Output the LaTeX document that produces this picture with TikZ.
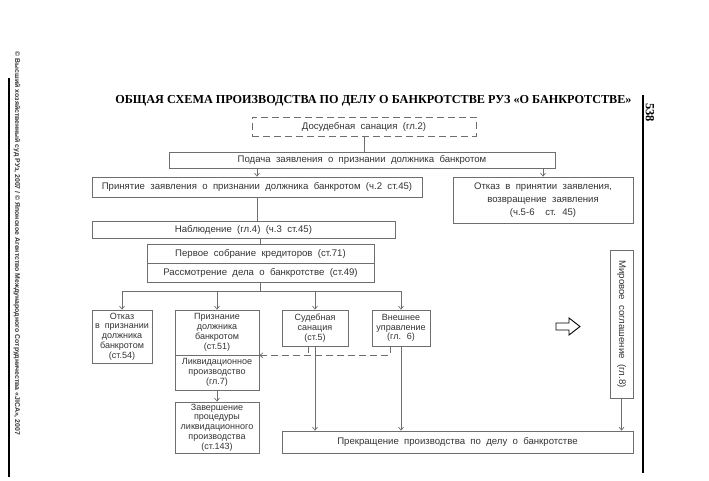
\documentclass[tikz,border=0pt]{standalone}
\usepackage{fontspec}
\setmainfont{Liberation Sans}[WordSpace=2]
\newfontfamily\titlefont{Liberation Serif}
\newfontfamily\sidefont{Liberation Sans}
\usetikzlibrary{arrows.meta}
\definecolor{lgray}{HTML}{6E6E6E}
\definecolor{tgray}{HTML}{333333}
\begin{document}
\begin{tikzpicture}[x=1pt,y=-1pt,
  wh/.style 2 args={minimum width=#1pt,minimum height=#2pt},
  box/.style={draw=lgray,line width=.7pt,inner sep=0pt,align=center,text=tgray,
    font=\fontsize{9.6}{13}\selectfont},
  sbox/.style={box,font=\fontsize{9}{9.8}\selectfont},
  con/.style={draw=lgray,line width=.7pt},
  arr/.style={con,-{Straight Barb[length=3pt,width=5pt]}},
  dsh/.style={dash pattern=on 7pt off 4pt}]
\useasboundingbox (0,0) rectangle (709,481);
% page frame
\node[rotate=-90,text=tgray,font=\sidefont\bfseries\fontsize{6.9}{8}\selectfont] (copy) at (17,243.5)
  {© Высший хозяйственный суд РУз, 2007 / © Японское Агентство Международного Сотрудничества «JICA», 2007};
\draw[line width=1.2pt] (9,78)--(9,477);
\draw[line width=2.4pt] (643,95)--(643,473);
\node[rotate=-90,font=\titlefont\bfseries\fontsize{12.5}{14}\selectfont] (pg) at (650,112.5) {538};
\node[font=\titlefont\bfseries\fontsize{12.2}{14}\selectfont] (title) at (373.5,100.5)
  {ОБЩАЯ СХЕМА ПРОИЗВОДСТВА ПО ДЕЛУ О БАНКРОТСТВЕ РУЗ «О БАНКРОТСТВЕ»};
% boxes
\node[box,dsh,wh={224}{19}] (san) at (364,126.5) {Досудебная санация (гл.2)};
\node[box,wh={386}{16}] (podacha) at (362,160) {Подача заявления о признании должника банкротом};
\node[box,wh={330}{20}] (prin) at (257,187) {Принятие заявления о признании должника банкротом (ч.2 ст.45)};
\node[box,wh={180}{46}] (otk1) at (543,200) {Отказ в принятии заявления,\\возвращение заявления\\(ч.5-6~~ст. 45)};
\node[box,wh={303}{17}] (nabl) at (243.5,229.5) {Наблюдение (гл.4) (ч.3 ст.45)};
\node[box,wh={227}{19}] (perv) at (260.5,253.5) {Первое собрание кредиторов (ст.71)};
\node[box,wh={227}{19}] (rass) at (260.5,272.5) {Рассмотрение дела о банкротстве (ст.49)};
\node[sbox,wh={60}{53}] (otk2) at (122,336.5) {Отказ\\в признании\\должника\\банкротом\\(ст.54)};
\node[sbox,wh={84}{45}] (priz) at (217,332.5) {Признание\\должника\\банкротом\\(ст.51)};
\node[sbox,wh={84}{35}] (likv) at (217,372.5) {Ликвидационное\\производство\\(гл.7)};
\node[sbox,wh={84}{51}] (zav) at (217,427.5) {Завершение\\процедуры\\ликвидационного\\производства\\(ст.143)};
\node[sbox,wh={66}{36}] (sud) at (315,328) {Судебная\\санация\\(ст.5)};
\node[sbox,wh={58}{36}] (vnesh) at (401,328) {Внешнее\\управление\\(гл. 6)};
\node[box,wh={351}{22}] (prek) at (457.5,442) {Прекращение производства по делу о банкротстве};
\node[box,rotate=-90,wh={148}{23}] (mir) at (621.5,324) {Мировое соглашение (гл.8)};
\draw[line width=.9pt] (556,323)--(569,323)--(569,318)--(580,326.5)--(569,335)--(569,330)--(556,330)--cycle; %block arrow
% connectors
\coordinate (bus) at (262,291);
\coordinate (sd) at (308,346);
\coordinate (vd) at (390,346);
\draw[con] (san.south) -- (san.south |- podacha.north);
\draw[arr] (podacha.south -| prin.north) -- (prin.north);
\draw[arr] (podacha.south -| otk1.north) -- (otk1.north);
\draw[con] (prin.south) -- (prin.south |- nabl.north);
\draw[con] (perv.north) -- (perv.north |- nabl.south);
\draw[con] (rass.south) -- (rass.south |- bus);
\draw[con] (otk2.north |- bus) -- (vnesh.north |- bus);
\foreach \n in {otk2,priz,sud,vnesh} \draw[arr] (\n.north |- bus) -- (\n.north);
\draw[arr,dsh] (vd) -- (vd |- priz.south east) -- (priz.south east); %to liquidation
\draw[con,dsh] (sd) -- (sd |- priz.south east);
\draw[arr] (likv) -- (zav);
\draw[arr] (sud.south) -- (sud.south |- prek.north);
\draw[arr] (vnesh.south) -- (vnesh.south |- prek.north);
\draw[arr] (mir.east) -- (mir.east |- prek.north);
\end{tikzpicture}
\end{document}
